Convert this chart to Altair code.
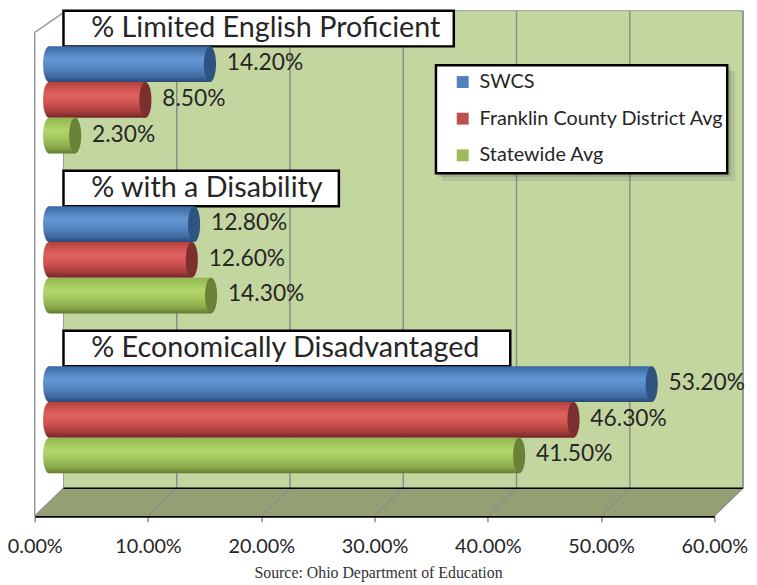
import altair as alt
import pandas as pd

# ---------------- data ----------------
groups = ["% Limited English Proficient", "% with a Disability", "% Economically Disadvantaged"]
series = ["SWCS", "Franklin County District Avg", "Statewide Avg"]
swcs = [14.2, 12.8, 53.2]
franklin = [8.5, 12.6, 46.3]
statewide = [2.3, 14.3, 41.5]
x_ticks = [0, 10, 20, 30, 40, 50, 60]
source_note = "Source: Ohio Department of Education"

# ---------------- style ----------------
W, H = 715, 510          # plot area (incl. 3-D depth)
AXIS_PX = 686            # front edge length for 0..60 %
DEPTH = 29               # back wall shift (px)
MID = 14.5               # bar depth shift (px)
FLOOR = 28               # floor depth (px)
PX_PER_FRAC = AXIS_PX / 0.6
GREEN_WALL = "#c4d6a0"
FLOOR_COL = "#959f74"
GRID = "#8c8c8c"
TXT = "#262626"
FONT = "Lato"
TITLE_BOX_RIGHT_PX = [423, 307, 480]
TITLE_TEXT_X = 57
series_colors = ["#4f81bd", "#c0504d", "#9bbb59"]
cap_colors = ["#2f5482", "#7b2f2e", "#6a8238"]
grad_stops = [
    ["#3b679e", "#6298d5", "#5a8bc8", "#3f6aa2", "#2b4a73"],
    ["#b5403d", "#e06260", "#d35755", "#a33b39", "#6e2725"],
    ["#94b552", "#b3d66a", "#a8cb60", "#87a548", "#5f7a31"],
]
grad_offsets = [0, 0.35, 0.55, 0.85, 1]
ELLIPSE = "M0,-1A0.34,1,0,1,1,0,1A0.34,1,0,1,1,0,-1Z"


def gradient(cols):
    return alt.LinearGradient(
        gradient="linear", x1=0, x2=0, y1=0, y2=1,
        stops=[alt.GradientStop(offset=o, color=c) for o, c in zip(grad_offsets, cols)],
    )


# ---------------- tables ----------------
vals = [swcs, franklin, statewide]
rows = []
for j, s in enumerate(series):
    for i, g in enumerate(groups):
        v = vals[j][i]
        rows.append({"group": g, "sub": s, "frac": v / 100, "zero": 0.0, "label": f"{v:.2f}%"})
bars = pd.DataFrame(rows)

titles = pd.DataFrame({
    "group": groups,
    "sub": ["title"] * 3,
    "x0": [DEPTH / PX_PER_FRAC] * 3,
    "x1": [px / PX_PER_FRAC for px in TITLE_BOX_RIGHT_PX],
})
ticks = pd.DataFrame({"t": [t / 100 for t in x_ticks]})
one = pd.DataFrame({"k": [0]})

xscale = alt.Scale(domain=[0, 0.6], range=[0, AXIS_PX], zero=True, nice=False)
xaxis = alt.Axis(values=[t / 100 for t in x_ticks], format=".2%", grid=False,
                 domainColor="black", domainWidth=2.5, tickColor=GRID, tickSize=6,
                 tickWidth=1.5, labelFontSize=20, labelFont=FONT, labelColor=TXT,
                 labelPadding=15, title=None, labelFlush=False, labelOverlap=False)


def X(field):
    return alt.X(field, type="quantitative", scale=xscale, axis=xaxis)


Y = alt.Y("group:N", scale=alt.Scale(domain=groups, paddingInner=0.108, paddingOuter=0.133, align=0), axis=None)
YO = alt.YOffset("sub:N", scale=alt.Scale(domain=["title"] + series, paddingInner=0, paddingOuter=0))

layers = []

# back wall
layers.append(alt.Chart(one).mark_rect(fill=GREEN_WALL, stroke="#9a9a9a", strokeWidth=1).encode(
    x=alt.value(DEPTH), x2=alt.value(W), y=alt.value(0), y2=alt.value(H - FLOOR)))
# floor
floor_path = f"M0,{H}L{DEPTH},{H - FLOOR}L{W},{H - FLOOR}L{W - DEPTH},{H}Z"
layers.append(alt.Chart(one).mark_point(shape=floor_path, size=4, filled=True, fill=FLOOR_COL,
                                        opacity=1, strokeWidth=0).encode(x=alt.value(0), y=alt.value(0)))
# grid lines on back wall
layers.append(alt.Chart(ticks).transform_filter("datum.t > 0").mark_rule(
    xOffset=DEPTH, color=GRID, strokeWidth=1.5).encode(
    x=X("t"), y=alt.value(0), y2=alt.value(H - FLOOR)))
# floor diagonals
layers.append(alt.Chart(ticks).mark_rule(xOffset=DEPTH, x2Offset=0, color=GRID, strokeWidth=1.2).encode(
    x=X("t"), x2="t:Q", y=alt.value(H - FLOOR), y2=alt.value(H)))
# wall bottom edge
layers.append(alt.Chart(one).mark_rule(color="black", strokeWidth=1.5).encode(
    x=alt.value(DEPTH), x2=alt.value(W), y=alt.value(H - FLOOR)))
# left wall edge
layers.append(alt.Chart(one).mark_point(shape=f"M0,{H}L0,22L{DEPTH},2", size=4, filled=False,
                                        stroke="#9a9a9a", strokeWidth=1.5, opacity=1).encode(
    x=alt.value(0), y=alt.value(0)))

# title boxes & text
layers.append(alt.Chart(titles).mark_rect(fill="white", stroke="black", strokeWidth=2.5,
                                          yOffset=2, y2Offset=-2).encode(
    x=X("x0"), x2="x1:Q", y=Y, yOffset=YO))
layers.append(alt.Chart(titles).mark_text(align="left", baseline="middle", fontSize=29, font=FONT,
                                          color=TXT).encode(
    x=alt.value(TITLE_TEXT_X), y=Y, yOffset=YO, text="group:N"))

# bars
for j, s in enumerate(series):
    sub = alt.Chart(bars).transform_filter(alt.datum.sub == s)
    g = gradient(grad_stops[j])
    layers.append(sub.mark_point(shape=ELLIPSE, size=1296, filled=True, fill=g, opacity=1,
                                 strokeWidth=0, xOffset=MID).encode(x=X("zero"), y=Y, yOffset=YO))
    layers.append(sub.mark_bar(fill=g, xOffset=MID, x2Offset=MID, strokeWidth=0).encode(
        x=X("frac"), x2="zero:Q", y=Y, yOffset=YO))
    layers.append(sub.mark_point(shape=ELLIPSE, size=1296, filled=True, fill=cap_colors[j], opacity=1,
                                 strokeWidth=0, xOffset=MID).encode(x=X("frac"), y=Y, yOffset=YO))

# value labels
layers.append(alt.Chart(bars).mark_text(align="left", baseline="middle", dx=MID + 17, dy=-1,
                                        fontSize=23, font=FONT, color=TXT).encode(
    x=X("frac"), y=Y, yOffset=YO, text="label:N"))

# legend shadow + box
layers.append(alt.Chart(one).mark_rect(fill="#555555", opacity=0.15).encode(
    x=alt.value(411), x2=alt.value(707), y=alt.value(61), y2=alt.value(172)))
layers.append(alt.Chart(one).mark_rect(fill="#555555", opacity=0.2).encode(
    x=alt.value(407), x2=alt.value(703), y=alt.value(57), y2=alt.value(168)))
layers.append(alt.Chart(one).mark_rect(fill="white", stroke="black", strokeWidth=2.5).encode(
    x=alt.value(405), x2=alt.value(699), y=alt.value(55), y2=alt.value(164)))

# legend carrier (invisible marks)
layers.append(alt.Chart(bars).mark_square(opacity=0).encode(
    x=X("frac"), y=Y, yOffset=YO,
    color=alt.Color("sub:N", scale=alt.Scale(domain=series, range=series_colors),
                    legend=alt.Legend(orient="none", legendX=422, legendY=62, title=None,
                                      symbolType="square", symbolSize=144, symbolOpacity=1,
                                      symbolStrokeWidth=0, labelFontSize=20, labelFont=FONT,
                                      labelColor=TXT, rowPadding=17, labelOffset=7, padding=0,
                                      labelLimit=400))))

# source note
layers.append(alt.Chart(one).mark_text(align="center", baseline="middle", fontSize=16,
                                       font="Liberation Serif", color="#333333").encode(
    x=alt.value(347), y=alt.value(568), text=alt.value(source_note)))

chart = alt.layer(*layers).properties(
    width=W, height=H,
    autosize=alt.AutoSizeParams(type="none"),
    padding={"left": 27, "top": 0, "right": 6, "bottom": 65},
).configure_view(stroke=None)

chart.save("out.html", embed_options={"renderer": "svg", "actions": False})
